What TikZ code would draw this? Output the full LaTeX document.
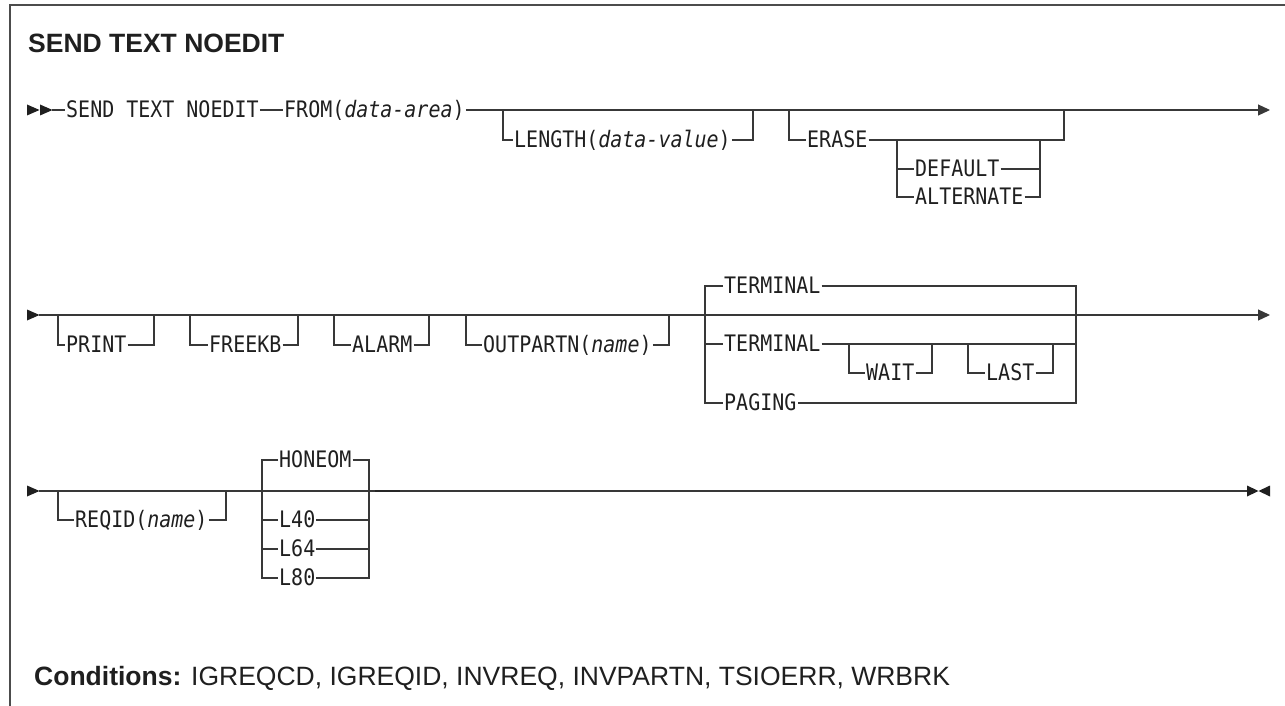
\documentclass[tikz,border=0pt]{standalone}
\usepackage{fontspec}
\setmainfont{Liberation Sans}
\newfontfamily\monofam{DejaVu Sans Mono}[FakeStretch=0.88, ItalicFont={DejaVu Sans Mono Oblique}]
\usetikzlibrary{arrows.meta}
\begin{document}
\begin{tikzpicture}[x=1pt,y=-1pt,
  ln/.style={line width=1.2pt, draw=black!78},
  kw/.style={font=\monofam\fontsize{22.7}{26}\selectfont, inner xsep=1pt, inner ysep=0pt,
             text height=15pt, text depth=0pt, anchor=west, text=black!88},
  endarrow/.style={ln, -{Triangle[length=12pt,width=11pt]}},
  tipfill/.style={fill=black!88},
  sansbig/.style={font=\fontsize{26.5}{30}\selectfont, inner sep=0pt, anchor=base west, text=black!88}]
\useasboundingbox (0,0) rectangle (1285,706);
% frame
\draw[line width=1.5pt, draw=black!70] (10,706) -- (10,5) -- (1285,5);
% title
\node[sansbig, font=\fontsize{26.5}{30}\selectfont\bfseries] (title) at (28,53) {SEND TEXT NOEDIT};

% ---------- row 1
\coordinate (r1s) at (52,110);
\coordinate (r1e) at (1270,110);
\fill[tipfill] (27,104.5) -- (39.5,110) -- (27,115.5) -- cycle;
\fill[tipfill] (40,104.5) -- (52.5,110) -- (40,115.5) -- cycle;
\node[kw] (send) at (65,110) {SEND TEXT NOEDIT};
\node[kw] (from) at (283,110) {FROM(\textit{data-area})};
\draw[ln] (r1s) -- (send.west);
\draw[ln] (send.east) -- (from.west);
\draw[endarrow] (from.east) -- (r1e);
% LENGTH
\coordinate (lenL) at (503,110);
\coordinate (lenR) at (753,110);
\node[kw] (len) at (513,140) {LENGTH(\textit{data-value})};
\draw[ln] (lenL) |- (len.west);
\draw[ln] (len.east) -| (lenR);
% ERASE
\coordinate (erL) at (789,110);
\coordinate (erR) at (1064,110);
\node[kw] (erase) at (806,140) {ERASE};
\draw[ln] (erL) |- (erase.west);
\draw[ln] (erase.east) -| (erR);
\coordinate (inL) at (897,140);
\coordinate (inR) at (1040,140);
\node[kw] (def) at (914,169) {DEFAULT};
\node[kw] (alt) at (914,197) {ALTERNATE};
\draw[ln] (inL) |- (alt.west);
\draw[ln] (inL |- def.west) -- (def.west);
\draw[ln] (def.east) -- (inR |- def.east);
\draw[ln] (alt.east) -| (inR);

% ---------- row 2
\coordinate (r2s) at (39,315);
\coordinate (r2e) at (1270,315);
\fill[tipfill] (27,309.5) -- (39.5,315) -- (27,320.5) -- cycle;
\draw[endarrow] (r2s) -- (r2e);
\coordinate (prL) at (58,315);
\coordinate (prR) at (154,315);
\node[kw] (print) at (65,345) {PRINT};
\draw[ln] (prL) |- (print.west);
\draw[ln] (print.east) -| (prR);
\coordinate (fkL) at (190,315);
\coordinate (fkR) at (298,315);
\node[kw] (freekb) at (208,345) {FREEKB};
\draw[ln] (fkL) |- (freekb.west);
\draw[ln] (freekb.east) -| (fkR);
\coordinate (alL) at (334,315);
\coordinate (alR) at (429,315);
\node[kw] (alarm) at (351,345) {ALARM};
\draw[ln] (alL) |- (alarm.west);
\draw[ln] (alarm.east) -| (alR);
\coordinate (opL) at (466,315);
\coordinate (opR) at (669,315);
\node[kw] (outp) at (482,345) {OUTPARTN(\textit{name})};
\draw[ln] (opL) |- (outp.west);
\draw[ln] (outp.east) -| (opR);
% TERMINAL group
\node[kw] (term1) at (723,286) {TERMINAL};
\node[kw] (term2) at (723,344) {TERMINAL};
\node[kw] (paging) at (723,403) {PAGING};
\coordinate (tgL) at (705,403);
\coordinate (tgR) at (1076,403);
\draw[ln] (term1.west) -| (tgL) -- (paging.west);
\draw[ln] (tgL |- term2.west) -- (term2.west);
\draw[ln] (term1.east) -| (tgR) -- (paging.east);
\draw[ln] (term2.east) -- (tgR |- term2.east);
\coordinate (waL) at (849,344);
\coordinate (waR) at (932,344);
\node[kw] (wait) at (865,373) {WAIT};
\draw[ln] (waL) |- (wait.west);
\draw[ln] (wait.east) -| (waR);
\coordinate (laL) at (968,344);
\coordinate (laR) at (1053,344);
\node[kw] (last) at (985,373) {LAST};
\draw[ln] (laL) |- (last.west);
\draw[ln] (last.east) -| (laR);

% ---------- row 3
\coordinate (r3s) at (39,491);
\coordinate (r3e) at (1247,491);
\fill[tipfill] (27,485.5) -- (39.5,491) -- (27,496.5) -- cycle;
\draw[ln] (r3s) -- (r3e);
\fill[tipfill] (1247,485.5) -- (1258.5,491) -- (1247,496.5) -- cycle;
\fill[tipfill] (1270,485.5) -- (1258.5,491) -- (1270,496.5) -- cycle;
\coordinate (rqL) at (58,491);
\coordinate (rqR) at (226,491);
\node[kw] (reqid) at (74,520) {REQID(\textit{name})};
\draw[ln] (rqL) |- (reqid.west);
\draw[ln] (reqid.east) -| (rqR);
\node[kw] (honeom) at (278,460) {HONEOM};
\node[kw] (l40) at (278,520) {L40};
\node[kw] (l64) at (278,549) {L64};
\node[kw] (l80) at (278,578) {L80};
\coordinate (hgL) at (262,578);
\coordinate (hgR) at (369,578);
\draw[ln] (honeom.west) -| (hgL) -- (l80.west);
\draw[ln] (hgL |- l40.west) -- (l40.west);
\draw[ln] (hgL |- l64.west) -- (l64.west);
\draw[ln] (honeom.east) -| (hgR) -- (l80.east);
\draw[ln] (l40.east) -- (hgR |- l40.east);
\draw[ln] (l64.east) -- (hgR |- l64.east);
\coordinate (dA) at (375,491);
\coordinate (dB) at (400,491);
\draw[line width=2.2pt, draw=black!85] (dA) -- (dB);

% conditions
\node[sansbig] (cond) at (34,685) {\textbf{Conditions:} IGREQCD, IGREQID, INVREQ, INVPARTN, TSIOERR, WRBRK};
\end{tikzpicture}
\end{document}
